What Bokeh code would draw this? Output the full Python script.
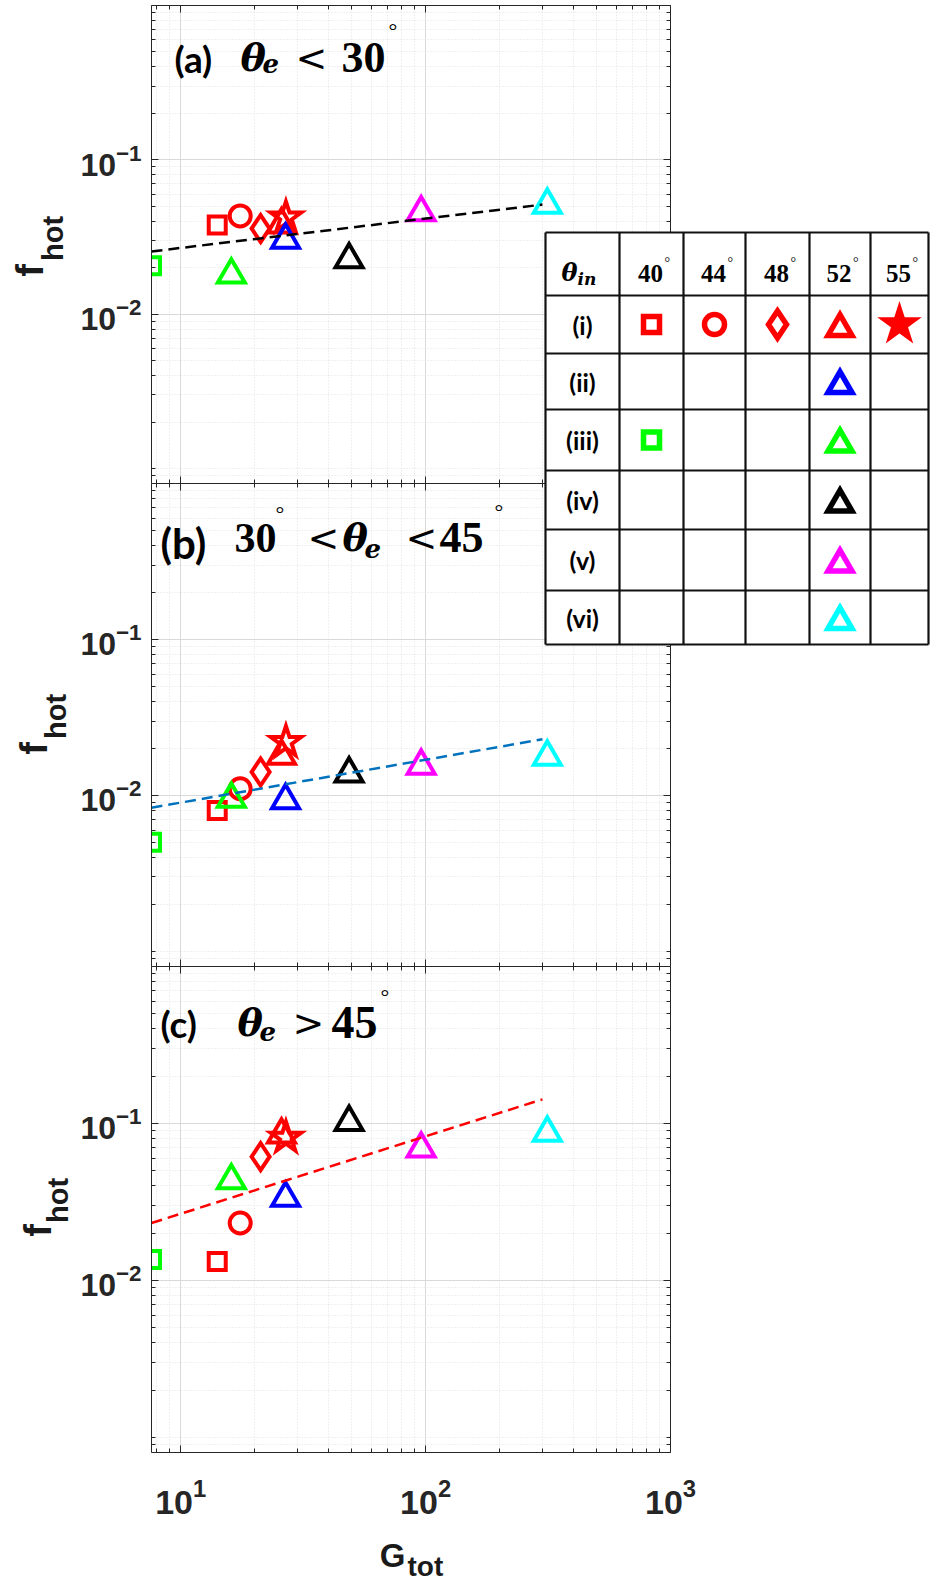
import math
from bokeh.plotting import figure
from bokeh.models import Range1d, FixedTicker, LogAxis, Label, ColumnDataSource
from bokeh.layouts import column, row
from bokeh.core.properties import value
from bokeh.embed import file_html
from bokeh.resources import INLINE

# ---------------- data ----------------
cases = ["(i) 40°", "(i) 44°", "(i) 48°", "(i) 52°", "(i) 55°", "(ii) 52°",
         "(iii) 40°", "(iii) 52°", "(iv) 52°", "(v) 52°", "(vi) 52°"]
g_tot = [14.1, 17.5, 21.2, 25.8, 26.9, 26.8, 7.6, 16.1, 48.7, 95.9, 314.0]
f_hot_a = [0.0379, 0.0433, 0.0359, 0.0380, 0.0423, 0.0303, 0.0206, 0.0180, 0.0226, 0.0456, 0.0511]
f_hot_b = [0.00801, 0.01104, 0.01413, 0.0179, 0.0220, 0.0093, 0.00501, 0.00948, 0.0138, 0.01545, 0.01766]
f_hot_c = [0.0132, 0.0232, 0.0614, 0.0846, 0.0812, 0.0335, 0.0136, 0.0433, 0.1019, 0.0690, 0.0871]
fit_g = [7.6, 300.0]
fit_a = [0.0255, 0.0513]
fit_b = [0.00834, 0.0229]
fit_c = [0.0232, 0.1424]

x_major = [10, 100, 1000]
x_minor = [8, 9] + [k * 10 for k in range(2, 10)] + [k * 100 for k in range(2, 10)]
y_major = [0.01, 0.1]
y_minor = [9e-4, 1e-3] + [k * 1e-3 for k in range(2, 10)] + [k * 1e-2 for k in range(2, 10)] + \
          [k * 1e-1 for k in range(2, 10)] + [1.0]

theta_in_cols = ["40", "44", "48", "52", "55"]
row_labels = ["(i)", "(ii)", "(iii)", "(iv)", "(v)", "(vi)"]
case_row = [1, 1, 1, 1, 1, 2, 3, 3, 4, 5, 6]
case_col = [1, 2, 3, 4, 5, 4, 1, 4, 4, 4, 4]

# ---------------- styles ----------------
markers = ["square", "circle", "diamond", "triangle", "star", "triangle",
           "square", "triangle", "triangle", "triangle", "triangle"]
colors = ["#ff0000"] * 5 + ["#0000ff", "#00ff00", "#00ff00", "#000000", "#ff00ff", "#00ffff"]
size_by_marker = {"square": 17, "circle": 21, "diamond": 27, "triangle": 27, "star": 32}
tsize_by_marker = {"square": 16, "circle": 20, "diamond": 27, "triangle": 24, "star": 29}

PAGE_H = 1580
XMIN, XMAX = 7.6, 1000.0
YMIN, YMAX = 8.0e-4, 1.0
LABW = 76              # width of the left label strip
FRAME_L = 151          # window px of frame left
FRAME_W = 519
LB = FRAME_L - LABW    # min_border_left of the panels
RB = 30                # min_border_right (room for the 10^3 label)

def px_to_x(X):
    lo, hi = math.log10(XMIN), math.log10(XMAX)
    return 10 ** (lo + (X - FRAME_L) / FRAME_W * (hi - lo))

def px_to_y(Y, top, h):
    lo, hi = math.log10(YMIN), math.log10(YMAX)
    return 10 ** (hi - (Y - top) / h * (hi - lo))

AX = "#262626"

def style_axis(ax, label_size, standoff):
    ax.axis_line_color = AX
    ax.axis_line_width = 1
    ax.major_tick_line_color = AX
    ax.minor_tick_line_color = AX
    ax.major_tick_in = 7
    ax.major_tick_out = 0
    ax.minor_tick_in = 4
    ax.minor_tick_out = 0
    if label_size:
        ax.major_label_text_font = "Liberation Sans"
        ax.major_label_text_font_style = "bold"
        ax.major_label_text_font_size = f"{label_size}px"
        ax.major_label_text_color = AX
        ax.major_label_standoff = standoff
    else:
        ax.major_label_text_font_size = "1px"
        ax.major_label_text_alpha = 0
        ax.major_label_standoff = 0


def make_panel(frame_h, top_b, bottom_b, xlabels, fvals, fitvals, fitcolor):
    p = figure(x_axis_type="log", y_axis_type="log",
               x_range=Range1d(XMIN, XMAX), y_range=Range1d(YMIN, YMAX),
               frame_width=FRAME_W, frame_height=frame_h,
               min_border_left=LB, min_border_right=RB,
               min_border_top=top_b, min_border_bottom=bottom_b,
               output_backend="svg", toolbar_location=None,
               background_fill_color="white", border_fill_color="white",
               outline_line_color=None)
    p.xaxis.ticker = FixedTicker(ticks=x_major, minor_ticks=x_minor)
    p.yaxis.ticker = FixedTicker(ticks=y_major, minor_ticks=y_minor)
    style_axis(p.xaxis[0], 34 if xlabels else 0, 26)
    style_axis(p.yaxis[0], 32, 10)
    top = LogAxis(ticker=FixedTicker(ticks=x_major, minor_ticks=x_minor))
    style_axis(top, 0, 0)
    p.add_layout(top, "above")
    right = LogAxis(ticker=FixedTicker(ticks=y_major, minor_ticks=y_minor))
    style_axis(right, 0, 0)
    p.add_layout(right, "right")

    for g in (p.xgrid, p.ygrid):
        g.grid_line_color = "#d9d9d9"
        g.grid_line_width = 1
        g.minor_grid_line_color = "#e0e0e0"
        g.minor_grid_line_dash = "1 2"
        g.minor_grid_line_width = 1

    src = ColumnDataSource(dict(x=g_tot, y=fvals, case=cases, marker=markers, color=colors,
                                size=[size_by_marker[m] for m in markers]))
    p.scatter("x", "y", source=src, marker="marker", size="size", line_color="color",
              fill_alpha=0, line_width=4, line_join="miter")
    p.line(fit_g, fitvals, line_color=fitcolor, line_width=2.5, line_dash="11 6")
    return p


def add_label(p, top, h, X, Y, text, font, size, style="normal"):
    p.add_layout(Label(x=px_to_x(X), y=px_to_y(Y, top, h), text=text,
                       text_font=font, text_font_size=f"{size}px", text_font_style=style,
                       text_align="left", text_baseline="alphabetic", text_color="black"))


SERIF = "Liberation Serif"
MATH = "DejaVu Serif"
SYM = "DejaVu Sans"
SANS = "Liberation Sans"
LBL = "Lato"

# panel a
A_TOP, A_H = 5, 478
pa = make_panel(A_H, A_TOP, 0, False, f_hot_a, fit_a, "#000000")
for t in [("(a)", 174, 58, LBL, 37, "bold"), ("θ", 240, 57, MATH, 38, "bold italic"),
          ("e", 262, 63, MATH, 26, "bold italic"), ("<", 295, 57, SYM, 38, "normal"),
          ("30", 341, 57, SERIF, 44, "bold"), ("°", 388, 30, SERIF, 22, "normal")]:
    add_label(pa, A_TOP, A_H, t[1], t[2], t[0], t[3], t[4], t[5])

# panel b
B_TOP, B_H = 483, 483
pb = make_panel(B_H, 0, 0, False, f_hot_b, fit_b, "#0072BD")
for t in [("(b)", 160, 542, LBL, 42, "bold"), ("30", 234, 537, SERIF, 42, "bold"),
          ("°", 275, 513, SERIF, 22, "normal"), ("<", 307, 537, SYM, 38, "normal"),
          ("θ", 342, 537, MATH, 38, "bold italic"), ("e", 364, 548, MATH, 26, "bold italic"),
          ("<", 405, 537, SYM, 38, "normal"), ("45", 439, 537, SERIF, 44, "bold"),
          ("°", 494, 511, SERIF, 22, "normal")]:
    add_label(pb, B_TOP, B_H, t[1], t[2], t[0], t[3], t[4], t[5])

# panel c
C_TOP, C_H = 966, 486
C_BOTTOM = 68
pc = make_panel(C_H, 0, C_BOTTOM, True, f_hot_c, fit_c, "#ff0000")
for t in [("(c)", 160, 1023, LBL, 37, "bold"), ("θ", 237, 1022, MATH, 38, "bold italic"),
          ("e", 259, 1031, MATH, 26, "bold italic"), (">", 292, 1022, SYM, 38, "normal"),
          ("45", 331, 1022, SERIF, 46, "bold"), ("°", 380, 996, SERIF, 22, "normal")]:
    add_label(pc, C_TOP, C_H, t[1], t[2], t[0], t[3], t[4], t[5])

# ---------------- x-axis label (G_tot), frame aligned with the panels ----------------
G_TOP = C_TOP + C_H + C_BOTTOM
G_H = PAGE_H - G_TOP
gfig = figure(x_axis_type="log", x_range=Range1d(XMIN, XMAX),
              y_range=Range1d(G_TOP + G_H, G_TOP),
              frame_width=FRAME_W, frame_height=G_H, min_border_left=LB, min_border_right=RB,
              min_border_top=0, min_border_bottom=0,
              x_axis_location=None, y_axis_location=None, output_backend="svg",
              toolbar_location=None, outline_line_color=None,
              background_fill_color="white", border_fill_color="white")
gfig.xgrid.visible = False
gfig.ygrid.visible = False
gfig.text(x=[px_to_x(405)], y=[1555], text=["G"], text_font=value(SANS), text_font_style="bold",
          text_font_size="33px", text_align="right", text_baseline="alphabetic",
          text_color="#1a1a1a")
gfig.text(x=[px_to_x(407)], y=[1566], text=["tot"], text_font=value(SANS), text_font_style="bold",
          text_font_size="28px", text_align="left", text_baseline="alphabetic",
          text_color="#1a1a1a")

# ---------------- y-axis labels strip (f_hot) ----------------
lab = figure(width=LABW, height=PAGE_H, x_range=Range1d(0, LABW), y_range=Range1d(0, PAGE_H),
             min_border=0, min_border_left=0, min_border_right=0, min_border_top=0,
             min_border_bottom=0, x_axis_location=None, y_axis_location=None,
             output_backend="svg", toolbar_location=None, outline_line_color=None,
             background_fill_color="white", border_fill_color="white")
lab.xgrid.visible = False
lab.ygrid.visible = False
# glyph centres (window px): f (x, y), hot (x, y)
f_pos = [(29, 270, 52, 238), (33, 748, 55, 716), (37, 1230, 57, 1200)]
lab.text(x=[p[0] for p in f_pos], y=[PAGE_H - p[1] for p in f_pos], text=["f"] * 3,
         angle=math.pi / 2, text_font=value(SANS), text_font_style="bold",
         text_font_size="38px", text_align="center", text_baseline="middle",
         text_color="#1a1a1a")
lab.text(x=[p[2] for p in f_pos], y=[PAGE_H - p[3] for p in f_pos], text=["hot"] * 3,
         angle=math.pi / 2, text_font=value(SANS), text_font_style="bold",
         text_font_size="29px", text_align="center", text_baseline="middle",
         text_color="#1a1a1a")

# ---------------- legend table ----------------
T_LEFT, T_TOP, TW, TH = 543, 230, 388, 417
col_edges = [545, 619, 683, 745, 809, 870, 928]
row_edges = [232, 295, 353, 409, 470, 529, 590, 644]
tbl = figure(width=TW, height=TH, x_range=Range1d(T_LEFT, T_LEFT + TW),
             y_range=Range1d(T_TOP + TH, T_TOP), min_border=0, min_border_left=0,
             min_border_right=0, min_border_top=0, min_border_bottom=0,
             x_axis_location=None, y_axis_location=None, output_backend="svg",
             toolbar_location=None, outline_line_color=None,
             background_fill_color=None, border_fill_color=None)
tbl.xgrid.visible = False
tbl.ygrid.visible = False
tbl.quad(left=[col_edges[0]], right=[col_edges[-1]], top=[row_edges[0]], bottom=[row_edges[-1]],
         fill_color="white", line_color=None)
tbl.segment(x0=[col_edges[0]] * len(row_edges), x1=[col_edges[-1]] * len(row_edges),
            y0=row_edges, y1=row_edges, line_color="#111111", line_width=2.2)
tbl.segment(x0=col_edges, x1=col_edges, y0=[row_edges[0]] * len(col_edges),
            y1=[row_edges[-1]] * len(col_edges), line_color="#111111", line_width=2.2)

col_c = [(col_edges[i] + col_edges[i + 1]) / 2 for i in range(len(col_edges) - 1)]
row_c = [(row_edges[i] + row_edges[i + 1]) / 2 for i in range(len(row_edges) - 1)]

tbl.text(x=[561], y=[272], text=["θ"], text_font=value(MATH), text_font_style="bold italic",
         text_font_size="24px", text_baseline="alphabetic")
tbl.text(x=[577], y=[278], text=["in"], text_font=value(MATH), text_font_style="bold italic",
         text_font_size="17px", text_baseline="alphabetic")
tbl.text(x=[c - 1 for c in col_c[1:]], y=[273] * 5, text=theta_in_cols, text_font=value(SERIF),
         text_font_style="bold", text_font_size="25px", text_align="center",
         text_baseline="alphabetic")
tbl.text(x=[c + 13 for c in col_c[1:]], y=[262] * 5, text=["°"] * 5, text_font=value(SERIF),
         text_font_size="14px", text_baseline="alphabetic")
tbl.text(x=[col_c[0]] * 6, y=row_c[1:], text=row_labels, text_font=value(LBL),
         text_font_style="bold", text_font_size="25px", text_align="center",
         text_baseline="middle")

tx = [col_c[c] for c in case_col]
ty = [row_c[r] + (4 if m == "triangle" else 0) for r, m in zip(case_row, markers)]
tsrc = ColumnDataSource(dict(x=tx, y=ty, marker=markers, color=colors,
                             size=[tsize_by_marker[m] for m in markers],
                             falpha=[1.0 if m == "star" else 0.0 for m in markers]))
tbl.scatter("x", "y", source=tsrc, marker="marker", size="size", line_color="color",
            fill_color="color", fill_alpha="falpha", line_width=5.5, line_join="miter")

main = column(pa, pb, pc, gfig)
main_w = LB + FRAME_W + RB
tbl.margin = (T_TOP, 0, PAGE_H - T_TOP - TH, T_LEFT - (LABW + main_w))
layout = row(lab, main, tbl)
open("out.html", "w").write(file_html(layout, INLINE))
